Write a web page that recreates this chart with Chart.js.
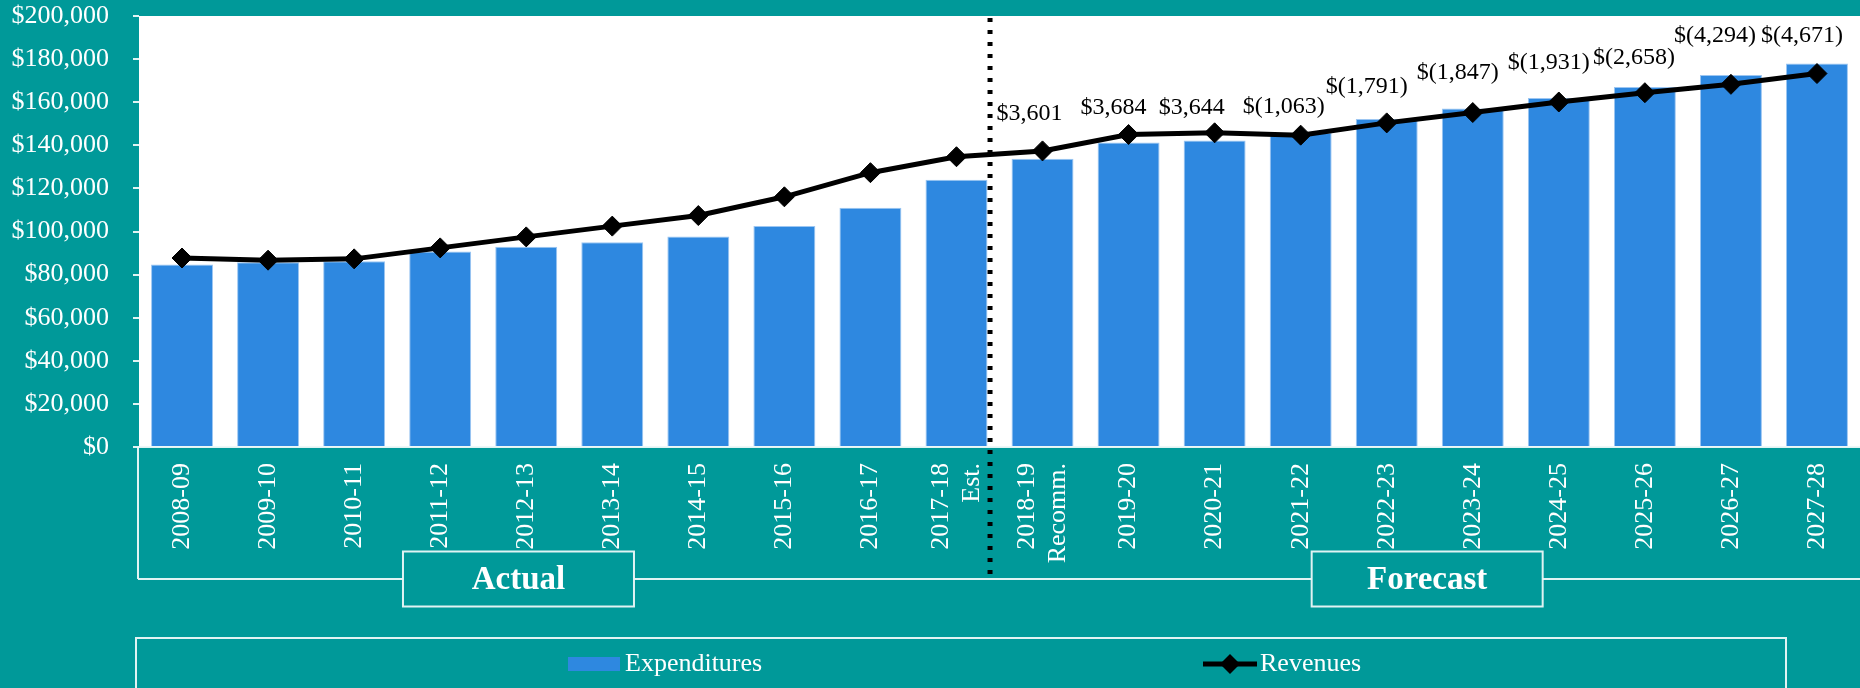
<!DOCTYPE html>
<html><head><meta charset="utf-8">
<script src="https://cdn.jsdelivr.net/npm/chart.js@4.4.1/dist/chart.umd.min.js"></script>
<style>
html,body{margin:0;padding:0;background:#009999;overflow:hidden}
#wrap{position:relative;width:1860px;height:688px}
</style></head>
<body><div id="wrap"><canvas id="c" width="1860" height="688"></canvas></div>
<script>
const categories = ['2008-09','2009-10','2010-11','2011-12','2012-13','2013-14','2014-15','2015-16','2016-17',['2017-18','Est.'],['2018-19','Recomm.'],'2019-20','2020-21','2021-22','2022-23','2023-24','2024-25','2025-26','2026-27','2027-28'];
const expenditures = [84700, 85700, 86200, 90700, 92900, 95000, 97700, 102600, 111000, 124000, 133800, 141300, 142200, 145800, 152200, 157100, 162000, 167100, 172600, 178000];
const revenues = [87700, 86700, 87300, 92400, 97500, 102500, 107400, 116100, 127300, 134700, 137400, 145000, 145800, 144700, 150400, 155200, 160100, 164400, 168300, 173300];
const gapLabels = [null,null,null,null,null,null,null,null,null,null,'$3,601','$3,684','$3,644','$(1,063)','$(1,791)','$(1,847)','$(1,931)','$(2,658)','$(4,294)','$(4,671)'];
const periodNames = ['Actual','Forecast'];
const yTickMin = 0, yTickMax = 200000, yTickStep = 20000;

// layout only (pixel offsets of gap labels relative to their revenue point)
const labelOffsets = [null,null,null,null,null,null,null,null,null,null,[-13,-37],[-15,-27],[-23,-25],[-17,-28],[-20,-36],[-15,-40],[-10,-39],[-11,-35],[-16,-49],[-15,-38]];

const TEAL = '#009999', BAR = '#2E88E0', LIGHT = 'rgba(236,248,248,0.95)';
const SERIF = '"Liberation Serif", "Times New Roman", serif';

function diamond(ctx, cx, cy, r){
  ctx.beginPath();
  ctx.moveTo(cx - r, cy); ctx.lineTo(cx, cy - r); ctx.lineTo(cx + r, cy); ctx.lineTo(cx, cy + r);
  ctx.closePath(); ctx.fill();
}

const overlay = {
  id: 'overlay',
  beforeDraw(chart){
    const {ctx, chartArea: a} = chart;
    ctx.save(); ctx.fillStyle = '#ffffff';
    ctx.fillRect(a.left, a.top, a.right - a.left, a.bottom - a.top);
    ctx.restore();
    // center multi-line rotated category labels on their tick
    const items = chart.scales.x.getLabelItems(a);
    items.forEach(it => {
      if (Array.isArray(it.label) && !it._centered) {
        const lh = it.font.lineHeight;
        it.options.translation[0] -= (it.label.length - 1) * lh / 2;
        it._centered = true;
      }
    });
  },
  afterDraw(chart){
    const {ctx, chartArea: a, scales: {x}} = chart;
    const p0 = x.getPixelForValue(0), step = x.getPixelForValue(1) - p0;
    const px = v => p0 + v * step;
    ctx.save();

    // bracket lines under the category axis
    const lineY = 579;
    ctx.strokeStyle = LIGHT; ctx.lineWidth = 2;
    ctx.beginPath();
    ctx.moveTo(a.left - 1, a.bottom); ctx.lineTo(a.left - 1, lineY);
    ctx.moveTo(a.left - 1, lineY); ctx.lineTo(chart.width, lineY);
    ctx.stroke();

    // period boxes
    const boxW = 231, boxH = 55;
    [[3.91, periodNames[0]], [14.47, periodNames[1]]].forEach(([v, name]) => {
      const cx = px(v);
      ctx.fillStyle = TEAL;
      ctx.fillRect(cx - boxW/2, lineY - boxH/2, boxW, boxH);
      ctx.strokeStyle = LIGHT; ctx.lineWidth = 2;
      ctx.strokeRect(cx - boxW/2, lineY - boxH/2, boxW, boxH);
      ctx.fillStyle = '#ffffff';
      ctx.font = 'bold 33px ' + SERIF;
      ctx.textAlign = 'center'; ctx.textBaseline = 'middle';
      ctx.fillText(name, cx, lineY + 1);
    });

    // dotted divider between actual and forecast
    const dx = px(9) + step * 0.39;
    ctx.strokeStyle = '#000000'; ctx.lineWidth = 5; ctx.setLineDash([4, 8]);
    ctx.beginPath(); ctx.moveTo(dx, a.top + 2); ctx.lineTo(dx, 576); ctx.stroke();
    ctx.setLineDash([]);

    // gap data labels
    const meta = chart.getDatasetMeta(0);
    ctx.fillStyle = '#000000';
    ctx.font = '24px ' + SERIF;
    ctx.textAlign = 'center'; ctx.textBaseline = 'middle';
    gapLabels.forEach((t, i) => {
      if (!t) return;
      const pt = meta.data[i], off = labelOffsets[i];
      ctx.fillText(t, pt.x + off[0], pt.y + off[1]);
    });

    // legend
    ctx.strokeStyle = LIGHT; ctx.lineWidth = 2;
    ctx.strokeRect(136, 638, 1650, 120);
    const ly = 664;
    ctx.fillStyle = BAR; ctx.fillRect(568, 657, 52, 14);
    ctx.fillStyle = '#ffffff'; ctx.font = '26px ' + SERIF;
    ctx.textAlign = 'left'; ctx.textBaseline = 'middle';
    ctx.fillText(chart.data.datasets[1].label, 625, ly);
    ctx.strokeStyle = '#000000'; ctx.lineWidth = 5;
    ctx.beginPath(); ctx.moveTo(1203, ly); ctx.lineTo(1257, ly); ctx.stroke();
    ctx.fillStyle = '#000000'; diamond(ctx, 1230, ly, 10);
    ctx.fillStyle = '#ffffff';
    ctx.fillText(chart.data.datasets[0].label, 1260, ly);
    ctx.restore();
  }
};

new Chart(document.getElementById('c'), {
  type: 'bar',
  data: {
    labels: categories,
    datasets: [
      { type: 'line', label: 'Revenues', data: revenues, order: 0,
        borderColor: '#000000', borderWidth: 5, backgroundColor: '#000000',
        pointStyle: 'rectRot', pointRadius: 10, pointBorderWidth: 1,
        pointBackgroundColor: '#000000', pointBorderColor: '#000000',
        tension: 0, fill: false, clip: false },
      { type: 'bar', label: 'Expenditures', data: expenditures, order: 1,
        backgroundColor: BAR, borderColor: '#9cc6f2', borderWidth: 1,
        barPercentage: 0.72, categoryPercentage: 1.0 }
    ]
  },
  options: {
    responsive: false, animation: false, devicePixelRatio: 1,
    layout: { autoPadding: false, padding: { top: 16, right: 0, left: 0, bottom: 0 } },
    plugins: { legend: { display: false }, tooltip: { enabled: false } },
    scales: {
      x: {
        grid: { display: false },
        border: { display: true, color: LIGHT, width: 2 },
        ticks: { color: '#ffffff', font: { family: SERIF, size: 26 }, minRotation: 90, maxRotation: 90, autoSkip: false, padding: 8 },
        afterFit(s){ s.height = 241; s.paddingLeft = 0; s.paddingRight = 0; s.paddingTop = 0; s.paddingBottom = 0; }
      },
      y: {
        min: yTickMin, max: yTickMax,
        grid: { drawOnChartArea: false, drawTicks: true, tickLength: 6, color: LIGHT, lineWidth: 2 },
        border: { display: false },
        ticks: { stepSize: yTickStep, color: '#ffffff', font: { family: SERIF, size: 26 }, padding: 24,
          callback: v => '$' + Number(v).toLocaleString('en-US') },
        afterFit(s){ s.width = 139; s.paddingTop = 0; s.paddingBottom = 0; s.paddingLeft = 0; s.paddingRight = 0; }
      }
    }
  },
  plugins: [overlay]
});
</script>
</body></html>
